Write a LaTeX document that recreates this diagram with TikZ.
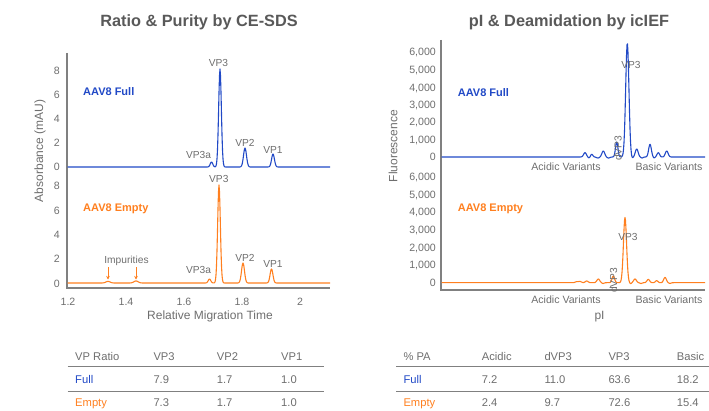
\documentclass[tikz,border=0pt]{standalone}
\usepackage{fontspec}
\setmainfont{Liberation Sans}
\usetikzlibrary{arrows.meta}
\definecolor{cblue}{HTML}{2149C6}
\definecolor{corange}{HTML}{FF7F1F}
\definecolor{tgray}{HTML}{6E6E6E}
\definecolor{agray}{HTML}{808080}
\definecolor{titlegray}{HTML}{595959}
\begin{document}
\begin{tikzpicture}[x=1pt,y=-1pt,
 declare function={g(\x,\c,\w)=exp(-min(abs((\x-\c)/\w),6)*min(abs((\x-\c)/\w),6));},
 title/.style={font=\fontsize{16.3}{19}\selectfont\bfseries, text=titlegray, inner sep=0pt},
 tick/.style={font=\fontsize{10.6}{12}\selectfont, text=tgray, anchor=base east, inner sep=0pt},
 xtick/.style={font=\fontsize{10.6}{12}\selectfont, text=tgray, inner sep=0pt},
 peak/.style={font=\fontsize{10.2}{12}\selectfont, text=tgray, inner sep=0pt},
 variant/.style={font=\fontsize{10.6}{12}\selectfont, text=tgray, inner sep=0pt},
 axlabel/.style={font=\fontsize{12}{14}\selectfont, text=tgray, inner sep=0pt},
 sample/.style={font=\fontsize{11}{13}\selectfont\bfseries, anchor=west, inner sep=0pt},
 tab/.style={font=\fontsize{11.2}{13}\selectfont, text=tgray, anchor=base west, inner sep=0pt},
 axisline/.style={draw=agray, line width=1.3pt},
 rule/.style={draw=agray, line width=1pt},
 trace/.style={line width=1.1pt, line join=round},
 imparrow/.style={draw=corange, line width=0.8pt, -{Stealth[length=3.5pt,width=3.5pt]}},
]
\useasboundingbox (0,0) rectangle (709,411);

% ---------------- titles ----------------
\node[title] (t1) at (199,22) {Ratio \& Purity by CE-SDS};
\node[title] (t2) at (569,22) {pI \& Deamidation by icIEF};

% ---------------- left chart: axes ----------------
\coordinate (la1) at (67,53);
\coordinate (la2) at (67,288);
\coordinate (la3) at (330,288);
\draw[axisline] (la1) -- (la2) -- (la3);
\foreach \v/\y [count=\k] in {8/71,6/95,4/119,2/143,0/167}
  \node[tick] (lta\k) at (60,\y+3.8) {\v};
\foreach \v/\y [count=\k] in {8/186,6/211,4/235,2/259,0/284}
  \node[tick] (ltb\k) at (60,\y+3.8) {\v};
\foreach \v/\x [count=\k] in {1.2/68,1.4/126,1.6/184,1.8/242,2/300}
  \node[xtick] (ltx\k) at (\x,302) {\v};
\node[axlabel, rotate=90] (lyl) at (40,151) {Absorbance (mAU)};
\node[axlabel] (lxl) at (210,316) {Relative Migration Time};

% traces
\draw[trace, cblue] plot[domain=67.5:330, samples=526]
  (\x, {167 - 5*g(\x,211.5,1.8) - 98*g(\x,220,1.9) - 19*g(\x,245,2.1) - 13*g(\x,273,2)});
\draw[trace, corange] plot[domain=67.5:330, samples=526]
  (\x, {283 - 1.6*g(\x,108,3) - 2*g(\x,136,3) - 4*g(\x,209.5,1.8) - 98*g(\x,219,1.9) - 20*g(\x,243,2.1) - 14*g(\x,271.5,2)});

\node[sample, text=cblue] (lfull) at (83,92) {AAV8 Full};
\node[sample, text=corange] (lempty) at (83,209) {AAV8 Empty};

\node[peak] (lp1) at (218.5,62.5) {VP3};
\node[peak] (lp2) at (198.5,154.5) {VP3a};
\node[peak] (lp3) at (245,143) {VP2};
\node[peak] (lp4) at (273,150) {VP1};
\node[peak] (lq1) at (218.8,178.7) {VP3};
\node[peak] (lq2) at (198.5,269.7) {VP3a};
\node[peak] (lq3) at (245,257.8) {VP2};
\node[peak] (lq4) at (273,263.8) {VP1};

\node[peak] (imp) at (126.5,261) {Impurities};
\coordinate (impa) at (108,279.5);
\coordinate (impb) at (136,279.5);
\draw[imparrow] (imp.south -| impa) ++(0,1.5) -- (impa);
\draw[imparrow] (imp.south -| impb) ++(0,1.5) -- (impb);

% ---------------- right chart: axes ----------------
\coordinate (ra1) at (441,40);
\coordinate (ra2) at (441,290);
\coordinate (ra3) at (705,290);
\draw[axisline] (ra1) -- (ra2) -- (ra3);
\foreach \v/\y [count=\k] in {{6,000}/52,{5,000}/70,{4,000}/87.5,{3,000}/105,{2,000}/122,{1,000}/139.5,0/157}
  \node[tick] (rta\k) at (436,\y+3.8) {\v};
\foreach \v/\y [count=\k] in {{6,000}/177,{5,000}/195,{4,000}/212,{3,000}/230,{2,000}/247.5,{1,000}/265,0/282.5}
  \node[tick] (rtb\k) at (436,\y+3.8) {\v};
\node[axlabel, rotate=90] (ryl) at (393,146) {Fluorescence};
\node[axlabel] (rxl) at (599.5,316.5) {pI};

% traces
\draw[trace, cblue] plot[domain=441.5:705, samples=528]
  (\x, {157 - 4.3*g(\x,585,2) + 1*g(\x,589,1.5) - 2.7*g(\x,591.7,1.6) + 1*g(\x,598,2) - 6*g(\x,603.3,2) + 1*g(\x,608.5,2)
        - 15*g(\x,616.7,1.7) - 114*g(\x,627.3,2.3) + 1.5*g(\x,632,1.5) - 8*g(\x,636.7,2) + 1*g(\x,642,1.5)
        - 12.7*g(\x,650,1.9) + 1*g(\x,654,1.2) - 4.3*g(\x,658.3,1.8) - 6*g(\x,666.7,2)});
\draw[trace, corange] plot[domain=441.5:705, samples=528]
  (\x, {282.7 - 1*g(\x,576.7,2) - 1.2*g(\x,580,2) - 1.7*g(\x,586.7,2) - 3.7*g(\x,598.3,2) + 0.8*g(\x,603,1.5)
        - 6.7*g(\x,613.3,1.8) - 65.3*g(\x,625,2.2) + 1*g(\x,630.5,1.3) - 3.7*g(\x,635,2) + 0.8*g(\x,641,1.5)
        - 3.3*g(\x,648.3,1.9) - 2*g(\x,656.7,1.8) - 5.3*g(\x,665,1.9) + 0.7*g(\x,670,1.5)});

\node[sample, text=cblue] (rfull) at (457.7,92.5) {AAV8 Full};
\node[sample, text=corange] (rempty) at (457.7,209) {AAV8 Empty};

\node[peak] (rp1) at (631,64.5) {VP3};
\node[peak, rotate=90] (rp2) at (618,148.5) {dVP3};
\node[peak] (rq1) at (628,236.5) {VP3};
\node[peak, rotate=90] (rq2) at (613.5,280.5) {dVP3};

\node[variant] (rv1) at (566,167) {Acidic Variants};
\node[variant] (rv2) at (669,167) {Basic Variants};
\node[variant] (rv3) at (566,300) {Acidic Variants};
\node[variant] (rv4) at (669,300) {Basic Variants};

% ---------------- left table ----------------
\coordinate (lr1a) at (67.5,366); \coordinate (lr1b) at (323.5,366);
\coordinate (lr2a) at (67.5,391); \coordinate (lr2b) at (323.5,391);
\draw[rule] (lr1a) -- (lr1b);
\draw[rule] (lr2a) -- (lr2b);
\node[tab] (lh1) at (75,360.5) {VP Ratio};
\node[tab] (lh2) at (153.3,360.5) {VP3};
\node[tab] (lh3) at (216.7,360.5) {VP2};
\node[tab] (lh4) at (281,360.5) {VP1};
\node[tab, text=cblue] (lf1) at (75,383) {Full};
\node[tab] (lf2) at (153.3,383) {7.9};
\node[tab] (lf3) at (216.7,383) {1.7};
\node[tab] (lf4) at (281,383) {1.0};
\node[tab, text=corange] (le1) at (75,406.5) {Empty};
\node[tab] (le2) at (153.3,406.5) {7.3};
\node[tab] (le3) at (216.7,406.5) {1.7};
\node[tab] (le4) at (281,406.5) {1.0};

% ---------------- right table ----------------
\coordinate (rr1a) at (396,366); \coordinate (rr1b) at (709,366);
\coordinate (rr2a) at (396,391); \coordinate (rr2b) at (709,391);
\draw[rule] (rr1a) -- (rr1b);
\draw[rule] (rr2a) -- (rr2b);
\node[tab] (rh1) at (403.3,360.5) {\% PA};
\node[tab] (rh2) at (481.7,360.5) {Acidic};
\node[tab] (rh3) at (544.3,360.5) {dVP3};
\node[tab] (rh4) at (608.3,360.5) {VP3};
\node[tab] (rh5) at (676.7,360.5) {Basic};
\node[tab, text=cblue] (rf1) at (403.3,383) {Full};
\node[tab] (rf2) at (481.7,383) {7.2};
\node[tab] (rf3) at (544.3,383) {11.0};
\node[tab] (rf4) at (608.3,383) {63.6};
\node[tab] (rf5) at (676.7,383) {18.2};
\node[tab, text=corange] (re1) at (403.3,406.5) {Empty};
\node[tab] (re2) at (481.7,406.5) {2.4};
\node[tab] (re3) at (544.3,406.5) {9.7};
\node[tab] (re4) at (608.3,406.5) {72.6};
\node[tab] (re5) at (676.7,406.5) {15.4};
\end{tikzpicture}
\end{document}
